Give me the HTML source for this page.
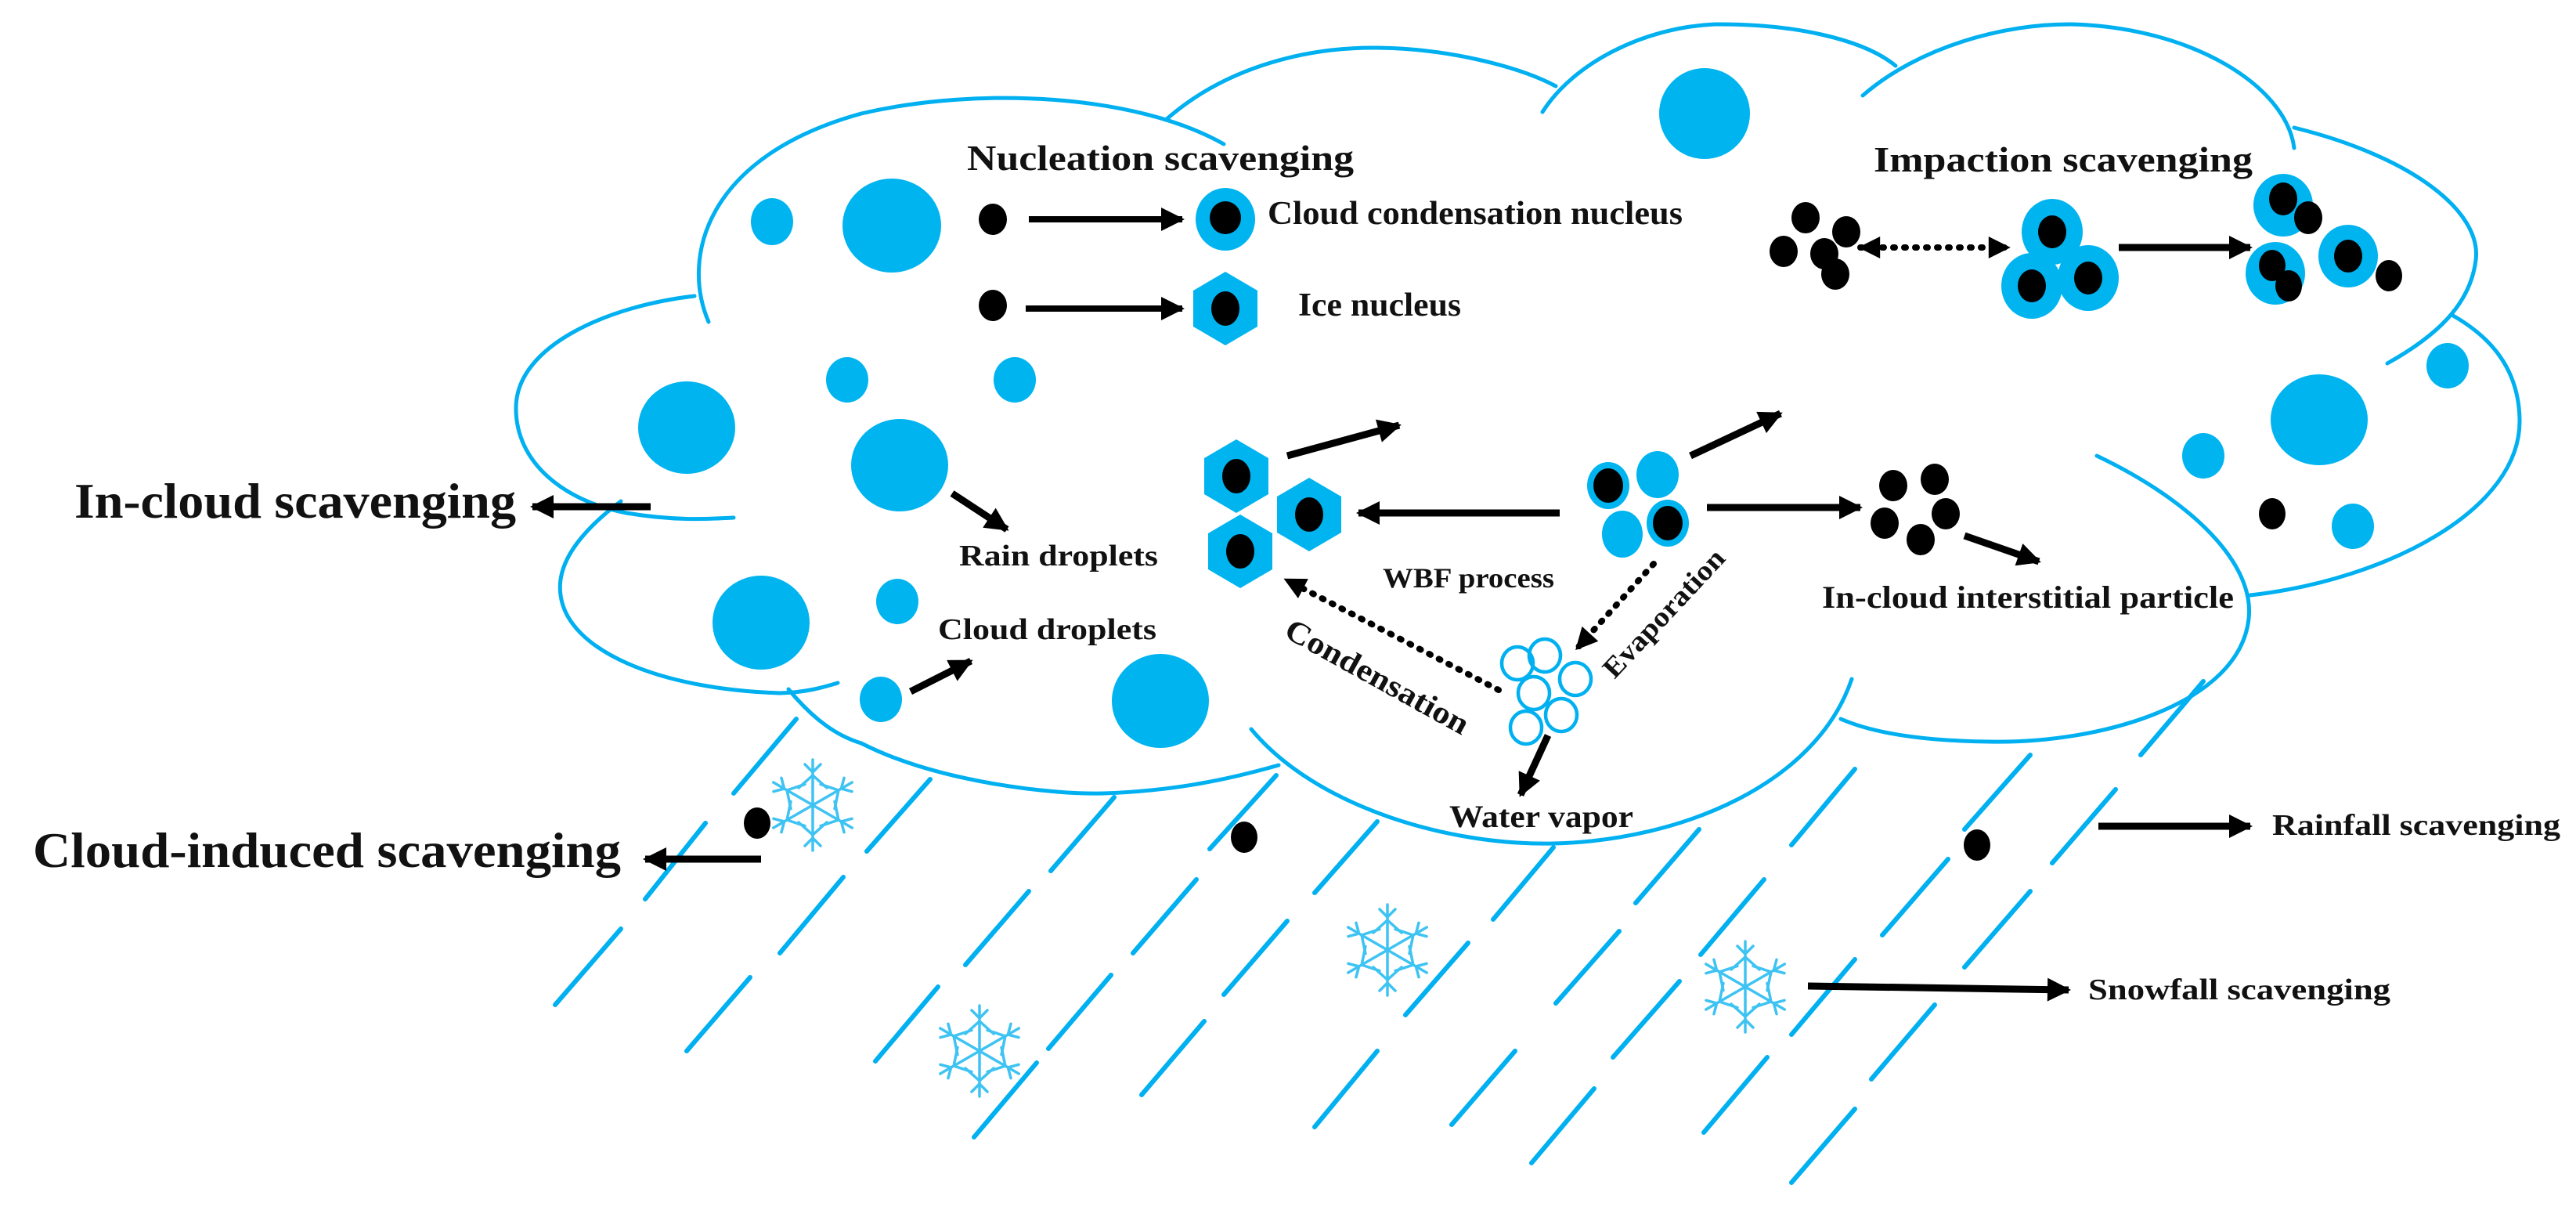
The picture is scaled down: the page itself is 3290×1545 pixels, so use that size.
<!DOCTYPE html>
<html><head><meta charset="utf-8"><style>html,body{margin:0;padding:0;background:#fff}svg{display:block}text{font-family:"Liberation Serif",serif;font-weight:bold;fill:#111}</style></head>
<body>
<svg width="3290" height="1545" viewBox="0 0 3290 1545" xmlns="http://www.w3.org/2000/svg">
<defs>
<marker id="a" viewBox="0 0 10 10" refX="9" refY="5" markerWidth="34" markerHeight="30" markerUnits="userSpaceOnUse" orient="auto"><path d="M0,0L10,5L0,10z" fill="#000"/></marker>
<marker id="as" viewBox="0 0 10 10" refX="9" refY="5" markerWidth="30" markerHeight="28" markerUnits="userSpaceOnUse" orient="auto-start-reverse"><path d="M0,0L10,5L0,10z" fill="#000"/></marker>
<g id="sf" fill="none" stroke="#3ec3f2" stroke-width="3.5" stroke-linecap="round">
<g id="arm"><line x1="0" y1="0" x2="0" y2="-58"/><polyline points="-10,-52 0,-42 10,-52"/><polyline points="-18,-22 0,-38 18,-22"/></g>
<use href="#arm" transform="rotate(60)"/><use href="#arm" transform="rotate(120)"/><use href="#arm" transform="rotate(180)"/><use href="#arm" transform="rotate(240)"/><use href="#arm" transform="rotate(300)"/>
</g>
<g id="hex"><polygon points="0,-47 41,-23 41,23 0,47 -41,23 -41,-23" fill="#00b4f0"/><ellipse rx="18" ry="22" fill="#000"/></g>
</defs>

<!-- cloud outline -->
<g fill="none" stroke="#00b0f0" stroke-width="5" stroke-linecap="round">
<path d="M905,411 C870,330 900,200 1100,145 C1250,110 1450,120 1563,184"/>
<path d="M887,378 C780,390 660,440 659,520 C658,590 720,640 800,655 C860,665 900,663 937,661"/>
<path d="M793,640 C740,680 710,720 716,760 C725,830 840,880 996,885 C1030,884 1050,878 1070,872"/>
<path d="M1007,880 C1040,920 1070,940 1100,949 C1200,1000 1350,1015 1409,1013 C1500,1010 1570,995 1633,977"/>
<path d="M1598,931 C1680,1030 1850,1080 1984,1077 C2150,1073 2320,1000 2365,867"/>
<path d="M2678,582 C2800,640 2880,720 2872,790 C2860,900 2680,950 2541,947 C2450,946 2390,935 2351,918"/>
<path d="M2874,760 C3050,740 3220,650 3218,536 C3217,470 3180,430 3133,403"/>
<path d="M2930,163 C3080,200 3170,270 3162,332 C3155,390 3110,430 3049,464"/>
<path d="M2379,122 C2450,60 2560,30 2646,31 C2800,35 2920,110 2930,189"/>
<path d="M1970,143 C2010,80 2100,35 2190,31 C2290,30 2380,50 2421,84"/>
<path d="M1489,153 C1560,90 1660,60 1759,61 C1850,62 1940,85 1987,110"/>
</g>

<!-- rain dashes -->
<g stroke="#00b0f0" stroke-width="6" stroke-linecap="round">
<line x1="1017" y1="918" x2="937" y2="1013"/><line x1="901" y1="1051" x2="824" y2="1148"/><line x1="793" y1="1186" x2="709" y2="1283"/>
<line x1="1077" y1="1120" x2="996" y2="1217"/><line x1="958" y1="1248" x2="877" y2="1342"/><line x1="1188" y1="995" x2="1107" y2="1087"/>
<line x1="1423" y1="1018" x2="1342" y2="1112"/><line x1="1314" y1="1138" x2="1233" y2="1232"/><line x1="1198" y1="1260" x2="1118" y2="1355"/>
<line x1="1630" y1="990" x2="1545" y2="1084"/><line x1="1528" y1="1123" x2="1447" y2="1217"/><line x1="1419" y1="1245" x2="1339" y2="1339"/><line x1="1324" y1="1357" x2="1244" y2="1452"/>
<line x1="1759" y1="1049" x2="1679" y2="1140"/><line x1="1644" y1="1176" x2="1563" y2="1270"/><line x1="1538" y1="1304" x2="1458" y2="1398"/>
<line x1="1984" y1="1082" x2="1907" y2="1174"/><line x1="1875" y1="1204" x2="1795" y2="1296"/><line x1="1759" y1="1342" x2="1679" y2="1439"/>
<line x1="2170" y1="1059" x2="2089" y2="1153"/><line x1="2068" y1="1189" x2="1987" y2="1281"/><line x1="1935" y1="1342" x2="1854" y2="1436"/>
<line x1="2145" y1="1253" x2="2060" y2="1350"/><line x1="2036" y1="1390" x2="1956" y2="1485"/>
<line x1="2369" y1="982" x2="2288" y2="1079"/><line x1="2253" y1="1123" x2="2172" y2="1219"/><line x1="2369" y1="1225" x2="2288" y2="1321"/><line x1="2257" y1="1350" x2="2176" y2="1446"/>
<line x1="2593" y1="964" x2="2509" y2="1059"/><line x1="2488" y1="1097" x2="2404" y2="1194"/><line x1="2471" y1="1283" x2="2390" y2="1378"/><line x1="2369" y1="1416" x2="2288" y2="1510"/>
<line x1="2814" y1="870" x2="2734" y2="964"/><line x1="2702" y1="1008" x2="2621" y2="1102"/><line x1="2593" y1="1138" x2="2509" y2="1235"/>
</g>

<!-- blue drops -->
<g fill="#00b4f0">
<ellipse cx="986" cy="283" rx="27" ry="30"/><ellipse cx="1139" cy="288" rx="63" ry="60"/>
<ellipse cx="1082" cy="485" rx="27" ry="29"/><ellipse cx="1296" cy="485" rx="27" ry="29"/>
<ellipse cx="877" cy="546" rx="62" ry="59"/><ellipse cx="1149" cy="594" rx="62" ry="59"/>
<ellipse cx="972" cy="795" rx="62" ry="60"/><ellipse cx="1146" cy="768" rx="27" ry="29"/>
<ellipse cx="1125" cy="893" rx="27" ry="29"/><ellipse cx="1482" cy="895" rx="62" ry="60"/>
<ellipse cx="2177" cy="145" rx="58" ry="58"/>
<ellipse cx="3126" cy="467" rx="27" ry="29"/><ellipse cx="2962" cy="536" rx="62" ry="58"/>
<ellipse cx="2814" cy="582" rx="27" ry="29"/><ellipse cx="3005" cy="672" rx="27" ry="29"/>
</g>
<g fill="#000">
<ellipse cx="2902" cy="656" rx="17" ry="20"/>
<ellipse cx="1268" cy="280" rx="18" ry="20"/><ellipse cx="1268" cy="390" rx="18" ry="20"/>
<ellipse cx="967" cy="1051" rx="17" ry="20"/><ellipse cx="1589" cy="1069" rx="17" ry="20"/><ellipse cx="2525" cy="1079" rx="17" ry="20"/>
</g>

<!-- nucleation -->
<ellipse cx="1565" cy="280" rx="38" ry="40" fill="#00b4f0"/><ellipse cx="1565" cy="278" rx="20" ry="21" fill="#000"/>
<use href="#hex" x="1565" y="394"/>
<g stroke="#000" stroke-width="8" fill="none">
<line x1="1314" y1="280" x2="1510" y2="280" marker-end="url(#a)"/>
<line x1="1310" y1="394" x2="1510" y2="394" marker-end="url(#a)"/>
</g>
<text x="1235" y="217" font-size="46" textLength="494" lengthAdjust="spacingAndGlyphs">Nucleation scavenging</text>
<text x="1619" y="286" font-size="42" textLength="530" lengthAdjust="spacingAndGlyphs">Cloud condensation nucleus</text>
<text x="1658" y="403" font-size="42" textLength="208" lengthAdjust="spacingAndGlyphs">Ice nucleus</text>

<!-- left labels -->
<text x="95" y="661" font-size="64" textLength="564" lengthAdjust="spacingAndGlyphs">In-cloud scavenging</text>
<text x="42" y="1107" font-size="64" textLength="751" lengthAdjust="spacingAndGlyphs">Cloud-induced scavenging</text>
<g stroke="#000" stroke-width="9" fill="none">
<line x1="831" y1="647" x2="680" y2="647" marker-end="url(#a)"/>
<line x1="972" y1="1097" x2="824" y2="1097" marker-end="url(#a)"/>
<line x1="1216" y1="630" x2="1286" y2="676" marker-end="url(#a)"/>
<line x1="1163" y1="883" x2="1240" y2="844" marker-end="url(#a)"/>
<line x1="1644" y1="582" x2="1787" y2="543" marker-end="url(#a)"/>
<line x1="1992" y1="655" x2="1735" y2="655" marker-end="url(#a)"/>
<line x1="2159" y1="582" x2="2274" y2="528" marker-end="url(#a)"/>
<line x1="2180" y1="648" x2="2376" y2="648" marker-end="url(#a)"/>
<line x1="2509" y1="684" x2="2604" y2="717" marker-end="url(#a)"/>
<line x1="1977" y1="939" x2="1942" y2="1015" marker-end="url(#a)"/>
<line x1="2706" y1="316" x2="2874" y2="316" marker-end="url(#a)"/>
<line x1="2680" y1="1055" x2="2874" y2="1055" marker-end="url(#a)"/>
<line x1="2309" y1="1259" x2="2642" y2="1264" marker-end="url(#a)"/>
</g>
<text x="1225" y="722" font-size="38" textLength="254" lengthAdjust="spacingAndGlyphs">Rain droplets</text>
<text x="1198" y="816" font-size="38" textLength="279" lengthAdjust="spacingAndGlyphs">Cloud droplets</text>

<!-- hexagons center -->
<use href="#hex" x="1579" y="608"/><use href="#hex" x="1672" y="657"/><use href="#hex" x="1584" y="704"/>
<text x="1766" y="750" font-size="36" textLength="219" lengthAdjust="spacingAndGlyphs">WBF process</text>

<!-- droplet cluster -->
<g fill="#00b4f0"><ellipse cx="2054" cy="620" rx="27" ry="30"/><ellipse cx="2117" cy="606" rx="27" ry="30"/><ellipse cx="2072" cy="682" rx="26" ry="30"/><ellipse cx="2130" cy="668" rx="27" ry="30"/></g>
<g fill="#000"><ellipse cx="2054" cy="620" rx="19" ry="22"/><ellipse cx="2130" cy="668" rx="19" ry="22"/></g>

<!-- water vapor rings -->
<g fill="none" stroke="#00b0f0" stroke-width="4.5">
<ellipse cx="1938" cy="847" rx="20" ry="21"/><ellipse cx="1973" cy="837" rx="20" ry="21"/><ellipse cx="2012" cy="867" rx="20" ry="21"/>
<ellipse cx="1959" cy="885" rx="20" ry="21"/><ellipse cx="1994" cy="913" rx="20" ry="21"/><ellipse cx="1949" cy="929" rx="20" ry="21"/>
</g>
<g stroke="#000" stroke-width="8" fill="none" stroke-dasharray="2 12" stroke-linecap="round">
<line x1="1914" y1="881" x2="1642" y2="740" marker-end="url(#as)"/>
<line x1="2112" y1="720" x2="2014" y2="828" marker-end="url(#as)"/>
<line x1="2376" y1="316" x2="2565" y2="316" marker-start="url(#as)" marker-end="url(#as)"/>
</g>
<text transform="translate(1638,812) rotate(29)" font-size="40" textLength="262" lengthAdjust="spacingAndGlyphs">Condensation</text>
<text transform="translate(2062,868) rotate(-47)" font-size="36" textLength="210" lengthAdjust="spacingAndGlyphs">Evaporation</text>
<text x="1851" y="1056" font-size="40" textLength="235" lengthAdjust="spacingAndGlyphs">Water vapor</text>

<!-- interstitial -->
<g fill="#000"><ellipse cx="2418" cy="620" rx="18" ry="20"/><ellipse cx="2471" cy="612" rx="18" ry="20"/><ellipse cx="2485" cy="656" rx="18" ry="20"/><ellipse cx="2407" cy="668" rx="18" ry="20"/><ellipse cx="2453" cy="689" rx="18" ry="20"/></g>
<text x="2327" y="776" font-size="40" textLength="526" lengthAdjust="spacingAndGlyphs">In-cloud interstitial particle</text>

<!-- impaction -->
<text x="2393" y="219" font-size="46" textLength="484" lengthAdjust="spacingAndGlyphs">Impaction scavenging</text>
<g fill="#000"><ellipse cx="2306" cy="278" rx="18" ry="20"/><ellipse cx="2358" cy="296" rx="18" ry="20"/><ellipse cx="2278" cy="321" rx="18" ry="20"/><ellipse cx="2330" cy="324" rx="18" ry="20"/><ellipse cx="2344" cy="350" rx="18" ry="20"/></g>
<g fill="#00b4f0"><ellipse cx="2621" cy="296" rx="39" ry="42"/><ellipse cx="2595" cy="365" rx="39" ry="42"/><ellipse cx="2667" cy="355" rx="39" ry="42"/>
<ellipse cx="2916" cy="262" rx="38" ry="40"/><ellipse cx="2906" cy="349" rx="38" ry="40"/><ellipse cx="2999" cy="327" rx="38" ry="40"/></g>
<g fill="#000"><ellipse cx="2621" cy="296" rx="18" ry="21"/><ellipse cx="2595" cy="365" rx="18" ry="21"/><ellipse cx="2667" cy="355" rx="18" ry="21"/>
<ellipse cx="2916" cy="254" rx="18" ry="21"/><ellipse cx="2948" cy="278" rx="18" ry="21"/><ellipse cx="2902" cy="339" rx="17" ry="20"/><ellipse cx="2923" cy="365" rx="17" ry="20"/><ellipse cx="2999" cy="327" rx="18" ry="21"/><ellipse cx="3051" cy="352" rx="17" ry="20"/></g>

<!-- snowflakes -->
<use href="#sf" x="1038" y="1028"/><use href="#sf" x="1772" y="1213"/><use href="#sf" x="1251" y="1342"/><use href="#sf" x="2229" y="1260"/>

<text x="2902" y="1066" font-size="38" textLength="368" lengthAdjust="spacingAndGlyphs">Rainfall scavenging</text>
<text x="2667" y="1276" font-size="38" textLength="386" lengthAdjust="spacingAndGlyphs">Snowfall scavenging</text>
</svg>
</body></html>
